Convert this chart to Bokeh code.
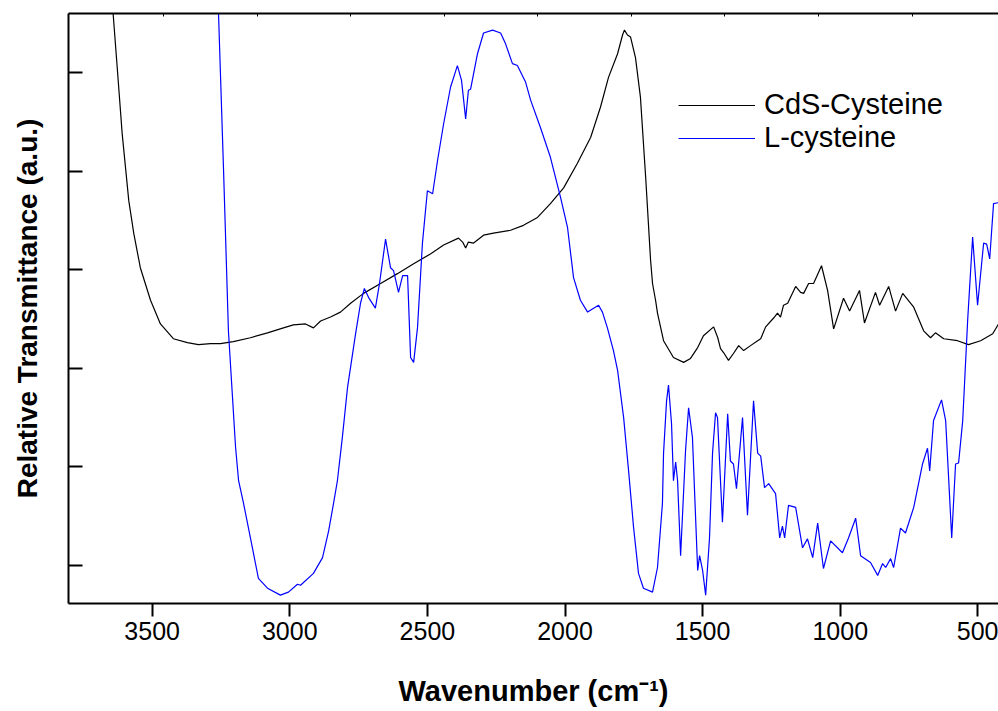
from bokeh.plotting import figure
from bokeh.models import (Range1d, FixedTicker, LinearAxis, Legend, LegendItem,
                          CustomJSTickFormatter)
from bokeh.embed import file_html
from bokeh.resources import INLINE

# ---- data ----
series_names = ["CdS-Cysteine", "L-cysteine"]

wn_cds = [3647, 3642, 3627, 3609, 3585, 3567, 3543, 3506, 3470, 3423, 3372, 3332, 3288, 3252,
          3205, 3143, 3081, 3023, 2987, 2943, 2914, 2888, 2852, 2816, 2779, 2732, 2670, 2609,
          2550, 2489, 2441, 2387, 2372, 2361, 2351, 2332, 2296, 2260, 2198, 2151, 2100, 2053,
          2005, 1955, 1907, 1871, 1842, 1809, 1791, 1784, 1773, 1762, 1744, 1726, 1707, 1689,
          1682, 1671, 1664, 1642, 1606, 1569, 1544, 1518, 1497, 1460, 1445, 1435, 1424, 1406,
          1388, 1369, 1351, 1326, 1300, 1289, 1271, 1242, 1228, 1217, 1206, 1191, 1162, 1144,
          1133, 1115, 1097, 1068, 1046, 1024, 988, 966, 930, 912, 872, 857, 824, 799, 773, 733,
          697, 672, 654, 624, 574, 534, 490, 446, 425]
t_cds = [6.78, 6.60, 6.05, 5.38, 4.70, 4.37, 4.02, 3.69, 3.45, 3.30, 3.26, 3.24, 3.25, 3.25,
         3.27, 3.31, 3.36, 3.41, 3.44, 3.45, 3.41, 3.48, 3.52, 3.57, 3.66, 3.76, 3.86, 3.96,
         4.06, 4.16, 4.25, 4.32, 4.28, 4.22, 4.28, 4.27, 4.35, 4.37, 4.40, 4.45, 4.53, 4.67,
         4.83, 5.08, 5.34, 5.65, 5.95, 6.19, 6.38, 6.43, 6.38, 6.36, 6.15, 5.75, 4.94, 4.09,
         3.86, 3.69, 3.56, 3.28, 3.11, 3.06, 3.10, 3.21, 3.33, 3.42, 3.31, 3.20, 3.16, 3.08,
         3.15, 3.23, 3.18, 3.23, 3.28, 3.30, 3.42, 3.51, 3.56, 3.52, 3.64, 3.66, 3.83, 3.77,
         3.76, 3.86, 3.86, 4.04, 3.79, 3.40, 3.71, 3.58, 3.79, 3.46, 3.77, 3.64, 3.83, 3.58,
         3.76, 3.62, 3.38, 3.31, 3.36, 3.30, 3.28, 3.24, 3.28, 3.35, 3.45]

wn_cys = [3261, 3259, 3241, 3234, 3223, 3208, 3197, 3186, 3168, 3143, 3114, 3081, 3034, 3005,
          2972, 2961, 2914, 2881, 2859, 2841, 2827, 2809, 2790, 2761, 2743, 2729, 2714, 2689,
          2674, 2652, 2634, 2623, 2605, 2590, 2572, 2561, 2550, 2536, 2518, 2500, 2481, 2463,
          2441, 2416, 2391, 2376, 2361, 2351, 2343, 2318, 2296, 2263, 2234, 2216, 2191, 2173,
          2143, 2125, 2089, 2053, 2016, 1991, 1969, 1944, 1918, 1896, 1878, 1864, 1846, 1824,
          1809, 1787, 1769, 1751, 1733, 1715, 1682, 1664, 1646, 1642, 1631, 1624, 1613, 1606,
          1598, 1591, 1580, 1562, 1551, 1537, 1518, 1511, 1500, 1489, 1475, 1464, 1453, 1446,
          1428, 1409, 1399, 1388, 1377, 1355, 1337, 1315, 1300, 1289, 1275, 1260, 1235, 1220,
          1210, 1202, 1188, 1162, 1137, 1119, 1100, 1082, 1061, 1035, 992, 970, 944, 926, 890,
          864, 846, 835, 817, 806, 781, 763, 733, 701, 683, 675, 661, 632, 617, 595, 581, 570,
          555, 537, 519, 501, 479, 468, 457, 443, 425]
t_cys = [6.78, 6.60, 5.04, 4.40, 3.38, 2.70, 2.20, 1.86, 1.63, 1.28, 0.87, 0.77, 0.70, 0.73,
         0.81, 0.80, 0.92, 1.08, 1.35, 1.63, 1.86, 2.30, 2.81, 3.35, 3.66, 3.81, 3.72, 3.61,
         3.86, 4.31, 4.02, 3.99, 3.77, 3.94, 3.94, 3.11, 3.06, 3.41, 4.27, 4.80, 4.77, 5.11,
         5.48, 5.85, 6.07, 5.92, 5.53, 5.82, 5.83, 6.19, 6.40, 6.43, 6.40, 6.29, 6.09, 6.07,
         5.90, 5.72, 5.44, 5.14, 4.73, 4.43, 3.92, 3.69, 3.57, 3.61, 3.64, 3.57, 3.41, 3.18,
         2.98, 2.50, 1.96, 1.39, 0.92, 0.77, 0.73, 0.98, 1.63, 2.14, 2.67, 2.83, 2.44, 1.86,
         2.05, 1.86, 1.10, 2.17, 2.60, 2.30, 0.95, 1.10, 0.95, 0.70, 1.28, 2.14, 2.55, 2.50,
         1.44, 2.54, 2.06, 2.03, 1.78, 2.50, 1.51, 2.67, 2.14, 2.11, 1.79, 1.83, 1.73, 1.28,
         1.40, 1.28, 1.61, 1.59, 1.18, 1.27, 1.08, 1.43, 0.97, 1.25, 1.13, 1.28, 1.48, 1.10,
         1.03, 0.90, 1.02, 0.98, 1.07, 0.98, 1.38, 1.33, 1.59, 2.03, 2.19, 1.96, 2.47, 2.68,
         2.47, 1.28, 2.03, 2.04, 2.47, 3.49, 4.33, 3.64, 4.27, 4.26, 4.11, 4.67, 4.68]

x_ticks = [3500, 3000, 2500, 2000, 1500, 1000, 500]
y_ticks = [1, 2, 3, 4, 5, 6]
top_ticks = [3459, 3119, 2779, 2439, 2099, 1759, 1419, 1079, 739]

FONT = "Liberation Sans"

p = figure(width=998, height=711, output_backend="svg", toolbar_location=None,
           x_range=Range1d(3804, 425), y_range=Range1d(0.615, 6.598),
           min_border_left=68, min_border_right=0, min_border_top=13, min_border_bottom=108,
           x_axis_label="Wavenumber (cm\u207b\u00b9)",
           y_axis_label="Relative Transmittance (a.u.)")
p.grid.visible = False
p.outline_line_color = None
p.background_fill_color = "white"
p.border_fill_color = "white"

blank = CustomJSTickFormatter(code="return ''")

xa = p.xaxis[0]
xa.ticker = FixedTicker(ticks=x_ticks)
xa.axis_line_width = 2
xa.major_tick_line_width = 2
xa.major_tick_out = 13
xa.major_tick_in = 0
xa.minor_tick_out = 0
xa.minor_tick_in = 0
xa.major_label_text_font = FONT
xa.major_label_text_font_size = "25px"
xa.major_label_text_color = "black"
xa.major_label_standoff = 5
xa.axis_label_text_font = FONT
xa.axis_label_text_font_style = "bold"
xa.axis_label_text_font_size = "29px"
xa.axis_label_text_color = "black"
xa.axis_label_standoff = 32

ya = p.yaxis[0]
ya.ticker = FixedTicker(ticks=y_ticks)
ya.formatter = blank
ya.axis_line_width = 2
ya.major_tick_line_width = 2
ya.major_tick_out = 0
ya.major_tick_in = 14
ya.minor_tick_out = 0
ya.minor_tick_in = 0
ya.major_label_standoff = 0
ya.axis_label_text_font = FONT
ya.axis_label_text_font_style = "bold"
ya.axis_label_text_font_size = "28px"
ya.axis_label_text_color = "black"
ya.axis_label_standoff = 26

top = LinearAxis(ticker=FixedTicker(ticks=top_ticks), formatter=blank,
                 axis_line_width=2, major_tick_line_width=1,
                 major_tick_in=3, major_tick_out=0, minor_tick_in=0, minor_tick_out=0,
                 major_label_standoff=0)
p.add_layout(top, "above")

r1 = p.line(wn_cds, t_cds, line_color="black", line_width=1.2)
r2 = p.line(wn_cys, t_cys, line_color="#0000FF", line_width=1.2)

legend = Legend(items=[LegendItem(label=series_names[0], renderers=[r1]),
                       LegendItem(label=series_names[1], renderers=[r2])],
                location=(610, 449), glyph_width=77, glyph_height=20,
                label_standoff=9, spacing=-3, padding=0, margin=0,
                border_line_color=None, background_fill_alpha=0,
                label_text_font=FONT, label_text_font_size="29px",
                label_text_color="black")
p.add_layout(legend)

open("out.html", "w").write(file_html(p, INLINE))
